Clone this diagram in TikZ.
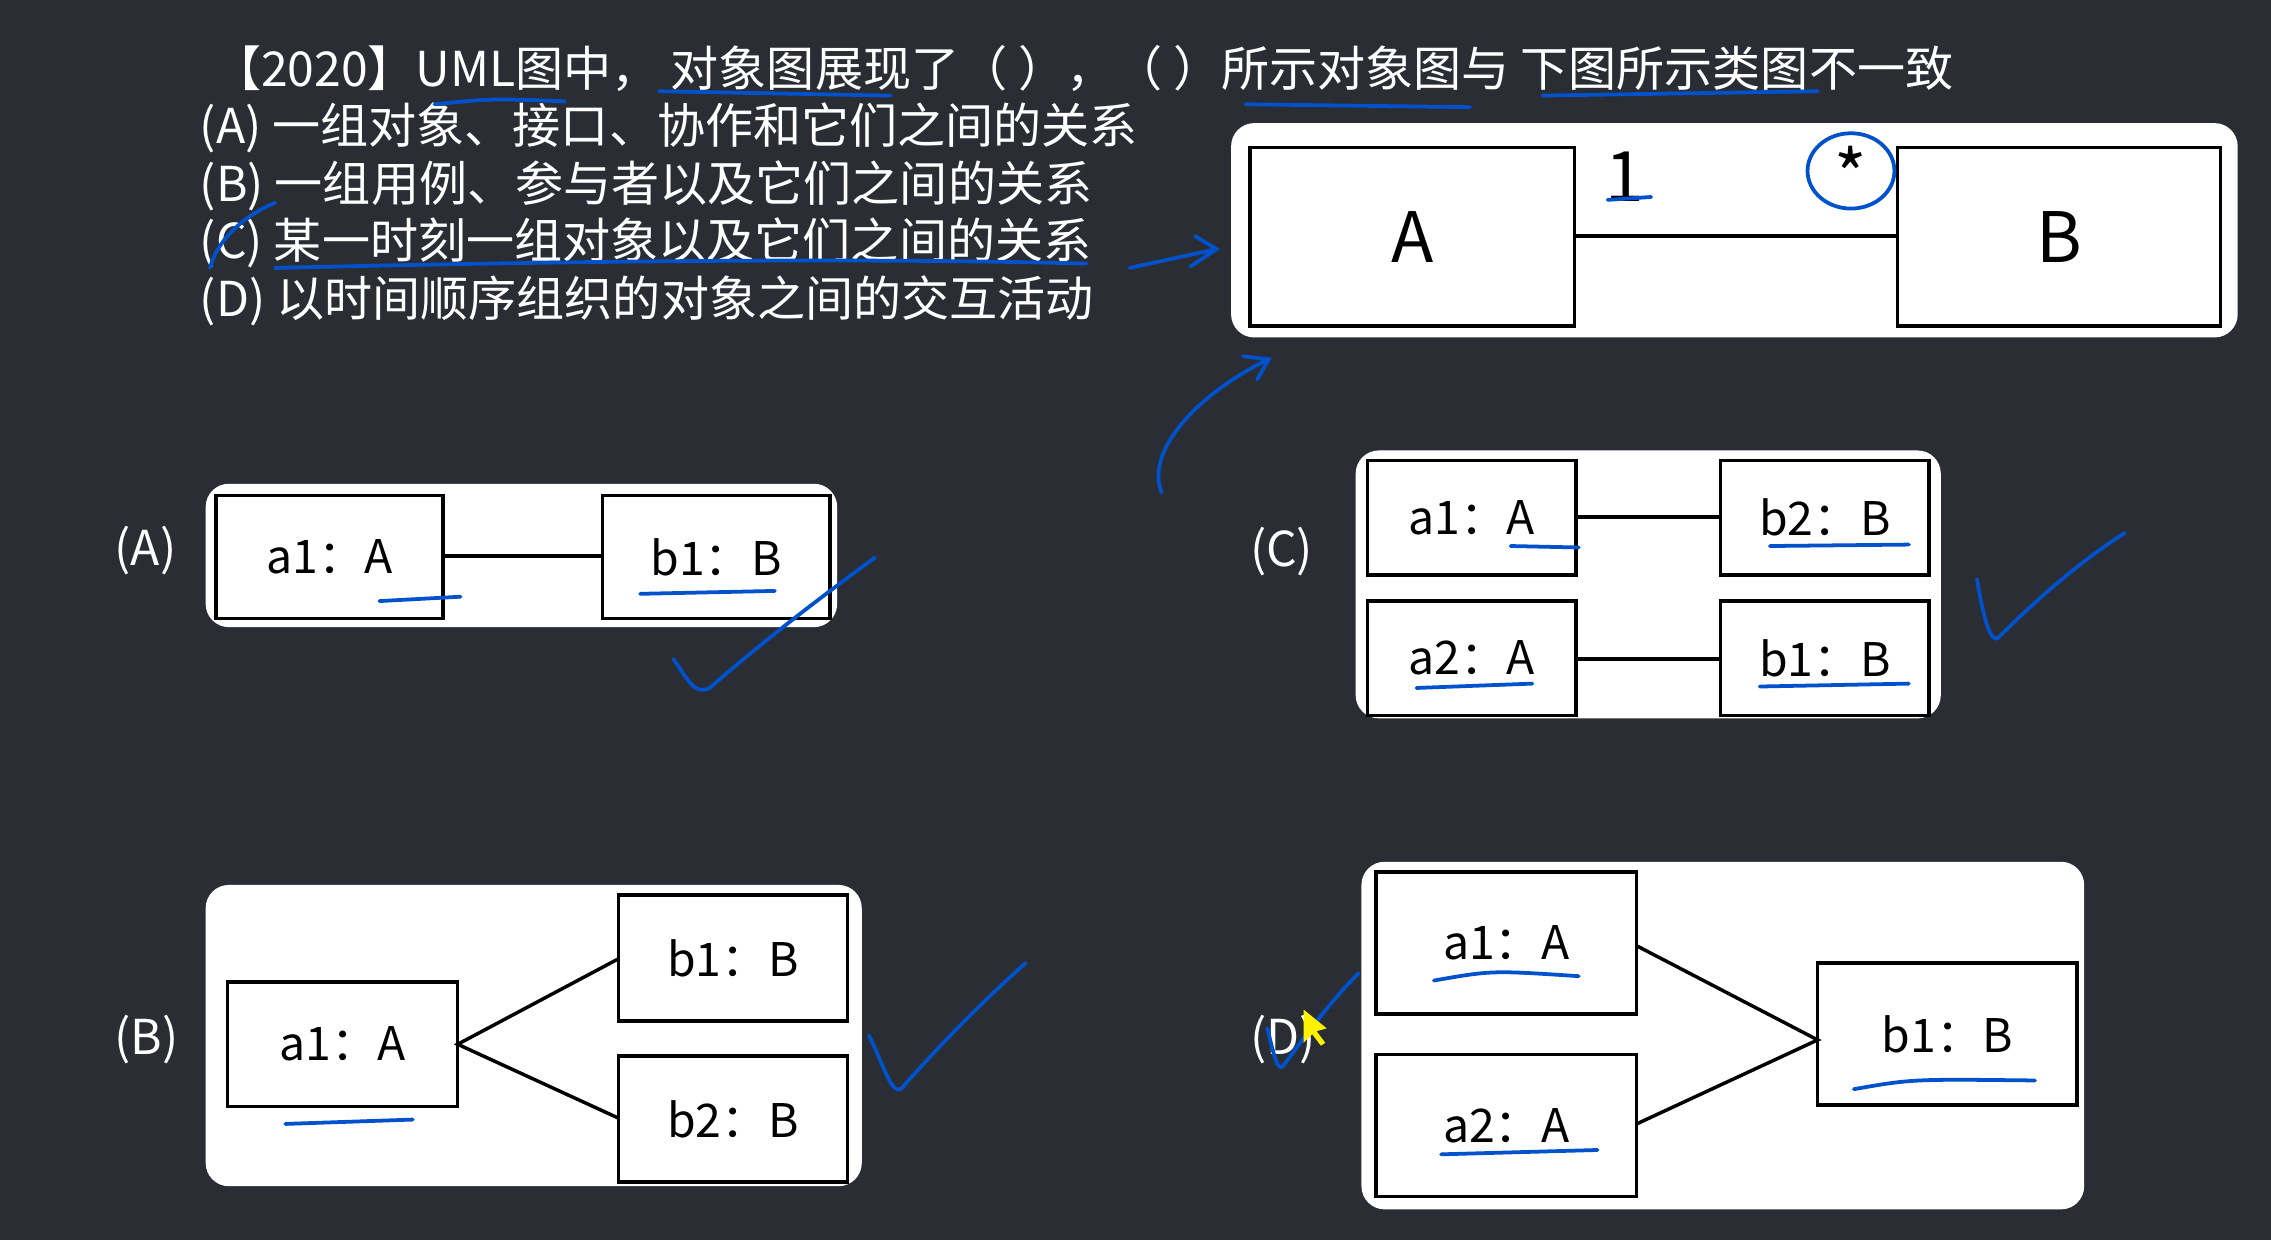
\documentclass[tikz,border=0pt]{standalone}
\usepackage{fontspec}
\setmainfont{Noto Sans CJK SC}
\begin{document}
\begin{tikzpicture}[x=0.5pt,y=-0.5pt,
  panel/.style={fill=white,rounded corners=8pt},
  obj/.style={draw=black,line width=1.2pt},
  lbl/.style={font=\fontsize{16}{18}\selectfont,text=black},
  big/.style={font=\fontsize{24}{26}\selectfont,text=black},
  opt/.style={font=\fontsize{16.6}{18}\selectfont,text=white,anchor=west},
  ink/.style={draw=blue!60!cyan!80!black,line width=1.3pt,line cap=round}]
\fill[fill={rgb,255:red,42;green,45;blue,51}] (0,0) rectangle (1568,856);
\useasboundingbox (0,0) rectangle (1568,856);
% text
\node[opt] (t) at (140,47) {【2020】UML图中， 对象图展现了（ ），（ ）所示对象图与 下图所示类图不一致};
\node[opt] (oa) at (131,88) {(A) 一组对象、接口、协作和它们之间的关系};
\node[opt] (ob) at (131,128) {(B) 一组用例、参与者以及它们之间的关系};
\node[opt] (oc) at (131,168) {(C) 某一时刻一组对象以及它们之间的关系};
\node[opt] (od) at (131,208) {(D) 以时间顺序组织的对象之间的交互活动};
% class diagram
\fill[panel] (850,85) rectangle (1545,233);
\draw[obj] (863,102) rectangle node[big] (A) {A} (1087,225);
\draw[obj] (1310,102) rectangle node[big] (B) {B} (1533,225);
\draw[line width=1.2pt] (1087,163) -- (1310,163);
\node[big] (m1) at (1122,122) {1};
\node[big] (m2) at (1278,120) {*};
% (A)
\node[opt] (LA) at (72,380) {(A)};
\fill[panel] (142,334) rectangle (578,433);
\draw[obj] (149,342) rectangle node[lbl] (aa1) {a1：A} (306,427);
\draw[obj] (416,342) rectangle node[lbl] (ab1) {b1：B} (573,427);
\draw[line width=1.2pt] (306,384) -- (416,384);
% (C)
\node[opt] (LC) at (856,381) {(C)};
\fill[panel] (936,311) rectangle (1340,496);
\draw[obj] (944,318) rectangle node[lbl] (ca1) {a1：A} (1088,397);
\draw[obj] (1188,318) rectangle node[lbl] (cb2) {b2：B} (1332,397);
\draw[obj] (944,415) rectangle node[lbl] (ca2) {a2：A} (1088,494);
\draw[obj] (1188,415) rectangle node[lbl] (cb1) {b1：B} (1332,494);
\draw[line width=1.2pt] (1088,357) -- (1188,357);
\draw[line width=1.2pt] (1088,455) -- (1188,455);
% (B)
\node[opt] (LB) at (72,718) {(B)};
\fill[panel] (142,611) rectangle (595,819);
\draw[obj] (157,678) rectangle node[lbl] (ba1) {a1：A} (316,764);
\draw[obj] (427,618) rectangle node[lbl] (bb1) {b1：B} (585,705);
\draw[obj] (427,729) rectangle node[lbl] (bb2) {b2：B} (585,816);
\draw[line width=1.2pt] (427,662) -- (316,721) -- (427,772);
% (D)
\node[opt] (LD) at (856,718) {(D)};
\fill[panel] (940,595) rectangle (1439,835);
\draw[obj] (950,602) rectangle node[lbl] (da1) {a1：A} (1130,700);
\draw[obj] (950,728) rectangle node[lbl] (da2) {a2：A} (1130,826);
\draw[obj] (1255,665) rectangle node[lbl] (db1) {b1：B} (1434,763);
\draw[line width=1.2pt] (1130,653) -- (1255,718) -- (1130,776);
% ink annotations
\draw[ink] (300,72) .. controls (340,68) .. (390,70);
\draw[ink] (455,63) -- (615,66);
\draw[ink] (860,72) -- (1015,74);
\draw[ink] (1065,66) -- (1255,63);
\draw[ink] (1278,118) ellipse (30 and 26);
\draw[ink] (1110,138) -- (1140,136);
\draw[ink] (780,185) .. controls (810,178) .. (840,172) (825,163) -- (840,172) -- (822,184);
\draw[ink] (802,340) .. controls (790,310) and (830,270) .. (876,248) (858,246) -- (876,248) -- (868,262);
\draw[ink] (145,185) .. controls (150,165) and (170,148) .. (190,140);
\draw[ink] (190,185) .. controls (400,180) and (600,178) .. (750,182);
\draw[ink] (262,415) -- (318,412);
\draw[ink] (442,410) -- (535,408);
\draw[ink] (465,455) .. controls (475,470) and (480,480) .. (490,475) .. controls (530,440) and (570,410) .. (604,385);
\draw[ink] (1043,377) -- (1090,378);
\draw[ink] (1222,377) -- (1318,376);
\draw[ink] (978,475) -- (1058,472);
\draw[ink] (1215,474) -- (1318,472);
\draw[ink] (1365,400) .. controls (1370,430) and (1375,445) .. (1380,440) .. controls (1410,410) and (1440,385) .. (1467,368);
\draw[ink] (197,776) -- (285,773);
\draw[ink] (600,715) .. controls (610,735) and (615,755) .. (622,752) .. controls (650,720) and (680,690) .. (708,665);
\draw[ink] (990,677) .. controls (1030,670) .. (1090,674);
\draw[ink] (995,797) -- (1103,794);
\draw[ink] (1280,752) .. controls (1320,745) .. (1405,746);
\draw[ink] (875,710) .. controls (880,730) and (882,740) .. (886,736) .. controls (905,710) and (920,690) .. (938,672);
\fill[yellow] (900,697) -- (900,720) -- (906,714) -- (912,722) -- (915,720) -- (909,712) -- (916,710) -- cycle;
\end{tikzpicture}
\end{document}
